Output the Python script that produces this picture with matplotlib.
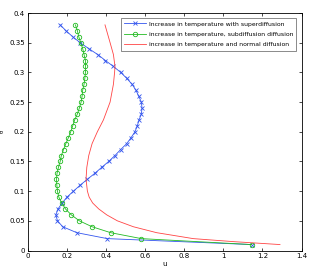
import numpy as np
import matplotlib
matplotlib.use('Agg')
import matplotlib.pyplot as plt

eta = np.round(np.arange(0.01, 0.385, 0.01), 2)

u_super = [1.145, 0.408, 0.252, 0.180, 0.153, 0.145, 0.156, 0.177, 0.202, 0.235,
           0.269, 0.306, 0.344, 0.379, 0.415, 0.447, 0.476, 0.507, 0.529, 0.549,
           0.561, 0.570, 0.582, 0.585, 0.582, 0.568, 0.554, 0.534, 0.507, 0.476,
           0.439, 0.398, 0.359, 0.313, 0.269, 0.231, 0.197, 0.167]

u_sub = [1.145, 0.582, 0.425, 0.330, 0.265, 0.224, 0.194, 0.175, 0.160, 0.153,
         0.150, 0.148, 0.151, 0.158, 0.167, 0.173, 0.184, 0.196, 0.209, 0.221,
         0.231, 0.241, 0.255, 0.265, 0.274, 0.279, 0.282, 0.289, 0.293, 0.296,
         0.296, 0.296, 0.289, 0.282, 0.272, 0.262, 0.255, 0.245]

eta_normal = [0.01, 0.015, 0.02, 0.03, 0.04, 0.05, 0.06, 0.07, 0.08, 0.09, 0.10,
              0.12, 0.14, 0.16, 0.18, 0.20, 0.22, 0.25, 0.28, 0.30, 0.31, 0.33,
              0.35, 0.38]
u_normal = [1.29, 1.05, 0.847, 0.660, 0.541, 0.459, 0.405, 0.364, 0.333, 0.315,
            0.306, 0.299, 0.303, 0.313, 0.330, 0.357, 0.388, 0.422, 0.439, 0.445,
            0.447, 0.439, 0.422, 0.396]

fig = plt.figure(figsize=(3.24, 2.72), dpi=100)
ax = fig.add_axes([27.5 / 324, 21.5 / 272, 274 / 324, 237.5 / 272])

ax.plot(u_super, eta, '-x', color='#3355ee', lw=0.6, ms=2.2, mew=0.6,
        label='Increase in temperature with superdiffusion')
ax.plot(u_sub, eta, '-o', color='#22bb22', lw=0.6, ms=3.2, mew=0.6, mfc='none',
        label='increase in temperature, subdiffusion diffusion')
ax.plot(u_normal, eta_normal, '-', color='#ff4444', lw=0.6,
        label='increase in temperature and normal diffusion')

ax.set_xlim(0, 1.4)
ax.set_ylim(0, 0.4)
ax.set_xticks(np.arange(0, 1.41, 0.2))
ax.set_xticklabels(['0', '0.2', '0.4', '0.6', '0.8', '1', '1.2', '1.4'])
ax.set_yticks(np.arange(0, 0.401, 0.05))
ax.set_yticklabels(['0', '0.05', '0.1', '0.15', '0.2', '0.25', '0.3', '0.35', '0.4'])
ax.tick_params(labelsize=5, direction='in', length=2, width=0.5, top=True, right=True, pad=2)
for s in ax.spines.values():
    s.set_linewidth(0.6)
ax.set_xlabel('u', fontsize=5, labelpad=1)
ax.set_ylabel('θ', fontsize=4, labelpad=3)

leg = ax.legend(loc='upper right', fontsize=4.4, frameon=True, fancybox=False,
                edgecolor='#333333', borderpad=0.5, handlelength=3.6,
                handletextpad=0.4, labelspacing=0.85, borderaxespad=0.85)
leg.get_frame().set_linewidth(0.5)

plt.savefig('out.png', dpi=100)
